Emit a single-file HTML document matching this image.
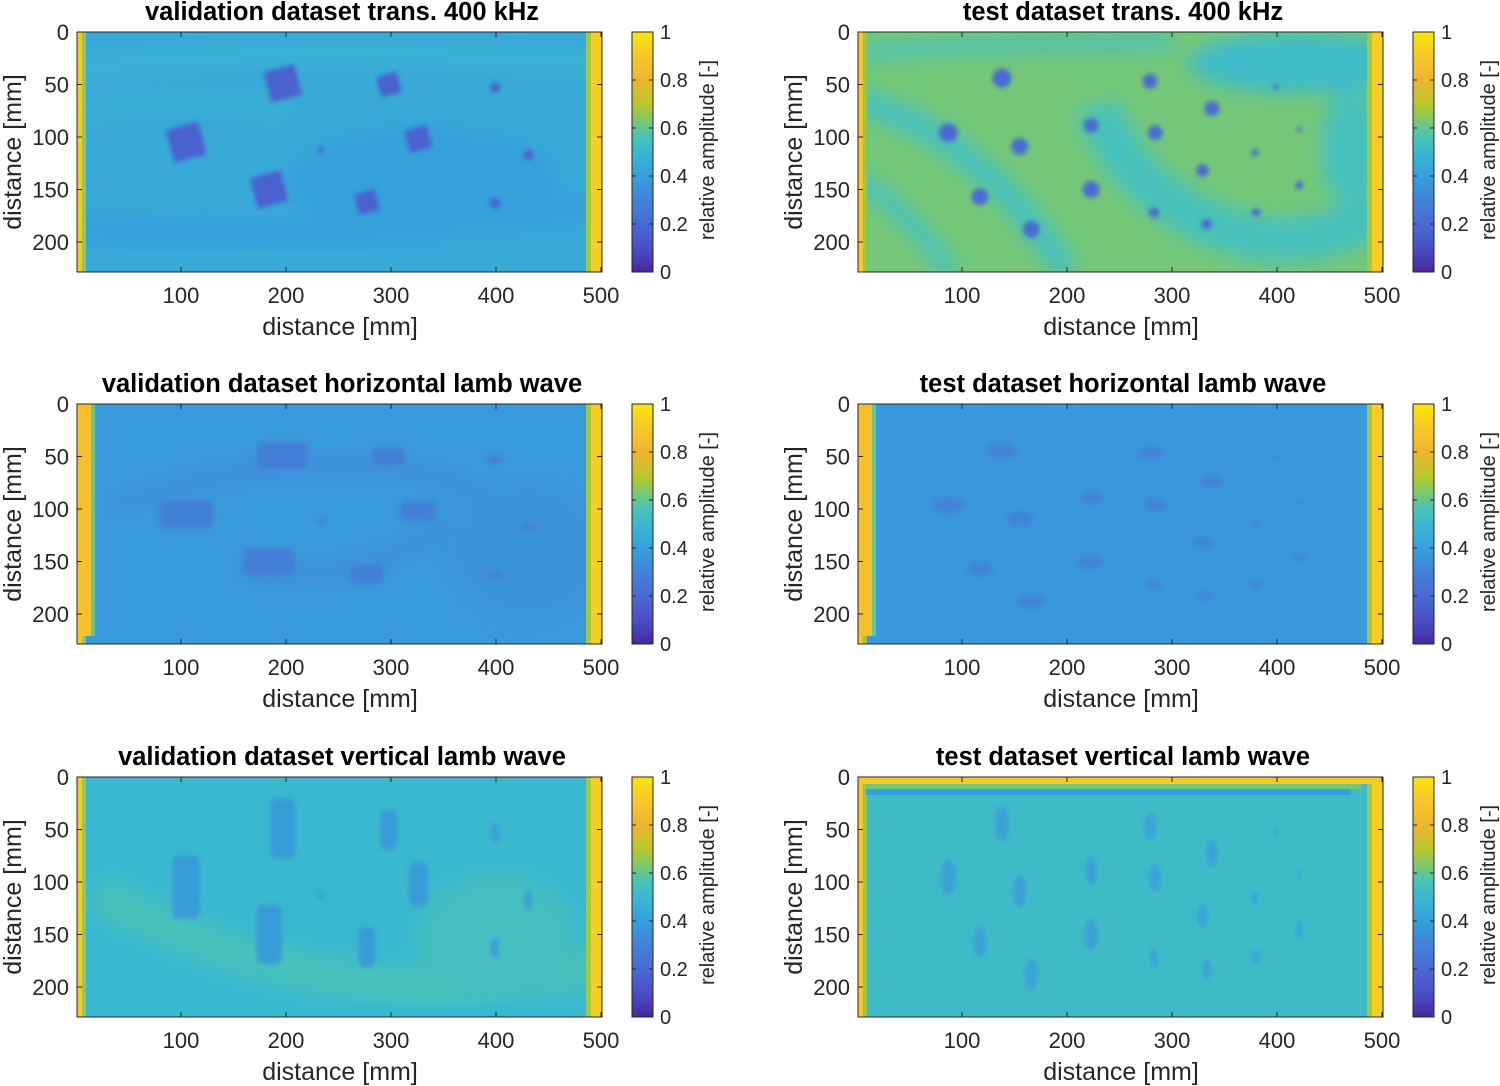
<!DOCTYPE html>
<html><head><meta charset="utf-8">
<style>
html,body{margin:0;padding:0;background:#fff;}
svg{display:block;font-family:"Liberation Sans",Arial,sans-serif;}
.tk{font-size:22px;fill:#262626;}
.lab{font-size:25px;fill:#262626;}
.ttl{font-size:25.5px;font-weight:bold;fill:#000;}
.cbl{font-size:20px;fill:#262626;}
</style></head>
<body>
<svg id="fig" width="1500" height="1086" viewBox="0 0 1500 1086">
<defs>
<linearGradient id="parula" x1="0" y1="1" x2="0" y2="0">
<stop offset="0" stop-color="#45289e"/><stop offset="0.1" stop-color="#4a4fc8"/>
<stop offset="0.2" stop-color="#4a6ad2"/><stop offset="0.3" stop-color="#4183d8"/>
<stop offset="0.4" stop-color="#36a0dc"/><stop offset="0.5" stop-color="#3ab8d0"/>
<stop offset="0.57" stop-color="#4cc4b4"/><stop offset="0.63" stop-color="#7cc86c"/>
<stop offset="0.7" stop-color="#b8c82a"/><stop offset="0.8" stop-color="#f0b430"/>
<stop offset="0.9" stop-color="#f8c82a"/><stop offset="1" stop-color="#f8e60a"/>
</linearGradient>
<filter id="blur2"><feGaussianBlur stdDeviation="2.5"/></filter>
<filter id="blur8"><feGaussianBlur stdDeviation="9"/></filter>
</defs>
</svg>
<script>
// ---- data ----
const xTicks = [100, 200, 300, 400, 500];
const yTicks = [0, 50, 100, 150, 200];
const cbTicks = [0, 0.2, 0.4, 0.6, 0.8, 1];
const panelTitles = ["validation dataset trans. 400 kHz","test dataset trans. 400 kHz",
 "validation dataset horizontal lamb wave","test dataset horizontal lamb wave",
 "validation dataset vertical lamb wave","test dataset vertical lamb wave"];
// validation defects (mm)
const valX = [105, 197, 298, 184, 277, 326, 399, 233, 431, 399];
const valY = [105, 49, 50, 150, 162, 102, 53, 112, 117, 163];
const valS = [32, 30, 20, 30, 20, 22, 10, 6, 10, 10];
// test defects (mm)
const testX = [138, 87, 155, 117, 166, 223, 223, 279, 284, 338, 329, 283, 333, 379, 380, 421, 421, 399];
const testY = [44, 96, 109, 157, 188, 89, 150, 47, 96, 73, 132, 172, 183, 115, 172, 146, 93, 52];
const testS = [18, 18, 16, 16, 16, 14, 16, 14, 14, 14, 12, 10, 10, 7, 8, 8, 5, 5];
// amplitudes per panel
const defectAmp = [0.17, 0.2, 0.26, 0.28, 0.36, 0.38];
const bgAmp = [0.44, 0.62, 0.38, 0.37, 0.5, 0.52];

const panelLeft = [77, 858, 77, 858, 77, 858];
const panelTop = [32, 32, 404, 404, 777, 777];
const PW = 525, PH = 240, MMX = 1.05, MMY = 1.05;

const stops=[[0,[69,40,158]],[0.1,[74,79,200]],[0.2,[74,106,210]],[0.3,[65,131,216]],[0.4,[54,160,220]],[0.5,[58,184,208]],[0.57,[76,196,180]],[0.63,[124,200,108]],[0.7,[184,200,42]],[0.8,[240,180,48]],[0.9,[248,200,42]],[1,[248,230,10]]];
function parula(v){v=Math.max(0,Math.min(1,v));for(let i=1;i<stops.length;i++){if(v<=stops[i][0]){const a=stops[i-1],b=stops[i],t=(v-a[0])/(b[0]-a[0]);const c=a[1].map((x,k)=>Math.round(x+(b[1][k]-x)*t));return `rgb(${c})`;}}return 'rgb(248,230,10)';}

const NS="http://www.w3.org/2000/svg", svg=document.getElementById('fig');
function mk(tag,attrs,parent){const e=document.createElementNS(NS,tag);for(const k in attrs)e.setAttribute(k,attrs[k]);(parent||svg).appendChild(e);return e;}

for(let p=0;p<6;p++){
  const L=panelLeft[p],T=panelTop[p];
  const sx=mm=>L-1+mm*MMX, sy=mm=>T+mm*MMY;
  const g=mk('g',{});
  
  
  const clipId='clip'+p;
  const cp=mk('clipPath',{id:clipId},g);mk('rect',{x:L,y:T,width:PW,height:PH},cp);
  const hm=mk('g',{'clip-path':`url(#${clipId})`},g);
  const bg=mk('rect',{x:L,y:T,width:PW,height:PH,fill:parula(bgAmp[p])},hm);
  
  
  const bl=mk('g',{filter:'url(#blur8)'},hm);
  const P=(x,y)=>`${sx(x)} ${sy(y)}`;
  if(p===0){
    mk('path',{d:`M${P(0,35)} Q${P(200,10)} ${P(500,30)}`,stroke:parula(0.5),'stroke-width':10,fill:'none'},bl);
    mk('path',{d:`M${P(0,75)} Q${P(120,60)} ${P(200,75)}`,stroke:parula(0.48),'stroke-width':10,fill:'none'},bl);
    mk('path',{d:`M${P(0,185)} Q${P(250,205)} ${P(500,165)}`,stroke:parula(0.40),'stroke-width':30,fill:'none'},bl);
    mk('ellipse',{cx:sx(330),cy:sy(140),rx:140,ry:55,fill:parula(0.41)},bl);
  }
  if(p===1){
    const tc=parula(0.55);
    mk('path',{d:`M${P(0,65)} Q${P(120,100)} ${P(200,230)}`,stroke:tc,'stroke-width':26,fill:'none'},bl);
    mk('path',{d:`M${P(0,140)} Q${P(50,170)} ${P(90,230)}`,stroke:tc,'stroke-width':18,fill:'none'},bl);
    mk('path',{d:`M${P(230,70)} Q${P(250,140)} ${P(330,180)} Q${P(420,220)} ${P(500,170)}`,stroke:tc,'stroke-width':45,fill:'none'},bl);
    mk('ellipse',{cx:sx(420),cy:sy(30),rx:110,ry:30,fill:parula(0.52)},bl);
    mk('ellipse',{cx:sx(470),cy:sy(110),rx:30,ry:60,fill:tc},bl);
    mk('path',{d:`M${P(0,20)} Q${P(120,10)} ${P(300,10)}`,stroke:tc,'stroke-width':14,fill:'none'},bl);
  }
  if(p===2){
    mk('path',{d:`M${P(30,100)} Q${P(250,20)} ${P(400,90)} Q${P(250,190)} ${P(150,150)}`,stroke:parula(0.35),'stroke-width':30,fill:'none'},bl);
    mk('ellipse',{cx:sx(430),cy:sy(140),rx:90,ry:80,fill:parula(0.36)},bl);
  }
  if(p===4){
    mk('path',{d:`M${P(20,110)} Q${P(250,240)} ${P(500,180)}`,stroke:parula(0.55),'stroke-width':40,fill:'none'},bl);
    mk('ellipse',{cx:sx(400),cy:sy(150),rx:80,ry:60,fill:parula(0.54)},bl);
  }
  // defects
  const isVal=(p%2===0);
  const DX=isVal?valX:testX, DY=isVal?valY:testY, DS=isVal?valS:testS;
  const dg=mk('g',{filter:'url(#blur2)'},hm);
  for(let i=0;i<DX.length;i++){
    const cx=sx(DX[i]),cy=sy(DY[i]),s=DS[i]*MMX;
    let w=s,h=s;
    if(p===2||p===3){w=s*1.6;h=s*0.85;}
    if(p===4||p===5){w=s*0.8;h=s*1.9;}
    const col=parula(defectAmp[p]);
    let e;
    if(isVal && DS[i]>=18 && p<2){
      e=mk('rect',{x:cx-w/2,y:cy-h/2,width:w,height:h,fill:col,transform:`rotate(-15 ${cx} ${cy})`},dg);
    } else if(isVal && DS[i]>=18){
      e=mk('rect',{x:cx-w/2,y:cy-h/2,width:w,height:h,rx:6,fill:col,opacity:0.8},dg);
    } else {
      e=mk('ellipse',{cx:cx,cy:cy,rx:w/2,ry:h/2,fill:col,opacity:(p>=2?0.75:1)},dg);
    }
    
    
  }
  // edges
  const ed=mk('g',{},hm);
  mk('rect',{x:L,y:T,width:5,height:PH,fill:parula(0.9)},ed);
  mk('rect',{x:L+5,y:T,width:4,height:PH,fill:parula(0.66)},ed);
  mk('rect',{x:L+PW-16,y:T,width:5,height:PH,fill:parula(0.68)},ed);
  mk('rect',{x:L+PW-11,y:T,width:11,height:PH,fill:parula(0.92)},ed);
  if(p===2||p===3){mk('rect',{x:L,y:T,width:14,height:PH-8,fill:parula(0.86)},ed);mk('rect',{x:L+14,y:T,width:4,height:PH-8,fill:parula(0.6)},ed);}
  if(p===5){mk('rect',{x:L,y:T,width:PW,height:7,fill:parula(0.9)},ed);mk('rect',{x:L+8,y:T+7,width:PW-30,height:5,fill:parula(0.62)},ed);mk('rect',{x:L+8,y:T+12,width:PW-40,height:6,fill:parula(0.4)},ed);}
  // axes box
  const box=mk('rect',{x:L,y:T,width:PW,height:PH,fill:'none',stroke:'#262626','stroke-width':1},g);
  
  
  xTicks.forEach(v=>{const x=sx(v);
    mk('line',{x1:x,y1:T+PH,x2:x,y2:T+PH-5,stroke:'#262626'},g);
    mk('line',{x1:x,y1:T,x2:x,y2:T+5,stroke:'#262626'},g);
    const t=mk('text',{x:x,y:T+PH+31,'text-anchor':'middle',class:'tk'},g);t.textContent=v;
    
    });
  yTicks.forEach(v=>{const y=sy(v);
    mk('line',{x1:L,y1:y,x2:L+5,y2:y,stroke:'#262626'},g);
    mk('line',{x1:L+PW,y1:y,x2:L+PW-5,y2:y,stroke:'#262626'},g);
    const t=mk('text',{x:L-8,y:y+8,'text-anchor':'end',class:'tk'},g);t.textContent=v;
    
    });
  const xl=mk('text',{x:L+263,y:T+PH+63,'text-anchor':'middle',class:'lab'},g);xl.textContent='distance [mm]';
  
  
  const yl=mk('text',{x:0,y:0,'text-anchor':'middle',class:'lab',transform:`translate(${L-56},${T+PH/2}) rotate(-90)`},g);yl.textContent='distance [mm]';
  
  
  const tt=mk('text',{x:L+265,y:T-12,'text-anchor':'middle',class:'ttl'},g);tt.textContent=panelTitles[p];
  
  
  // colorbar
  const CX=L+555,CW=21;
  const cb=mk('rect',{x:CX,y:T,width:CW,height:PH,fill:'url(#parula)',stroke:'#262626','stroke-width':1},g);
  
  
  cbTicks.forEach(v=>{const y=T+PH-v*PH;
    mk('line',{x1:CX,y1:y,x2:CX+4,y2:y,stroke:'#262626'},g);
    mk('line',{x1:CX+CW,y1:y,x2:CX+CW-4,y2:y,stroke:'#262626'},g);
    const t=mk('text',{x:CX+CW+7,y:y+7,class:'cbl'},g);t.textContent=(v===0||v===1)?String(v):v.toFixed(1);
    
    });
  const cl=mk('text',{x:0,y:0,'text-anchor':'middle',class:'cbl',transform:`translate(${CX+CW+61},${T+PH/2-2}) rotate(-90)`},g);cl.textContent='relative amplitude [-]';
  
  
}
</script>
</body></html>
